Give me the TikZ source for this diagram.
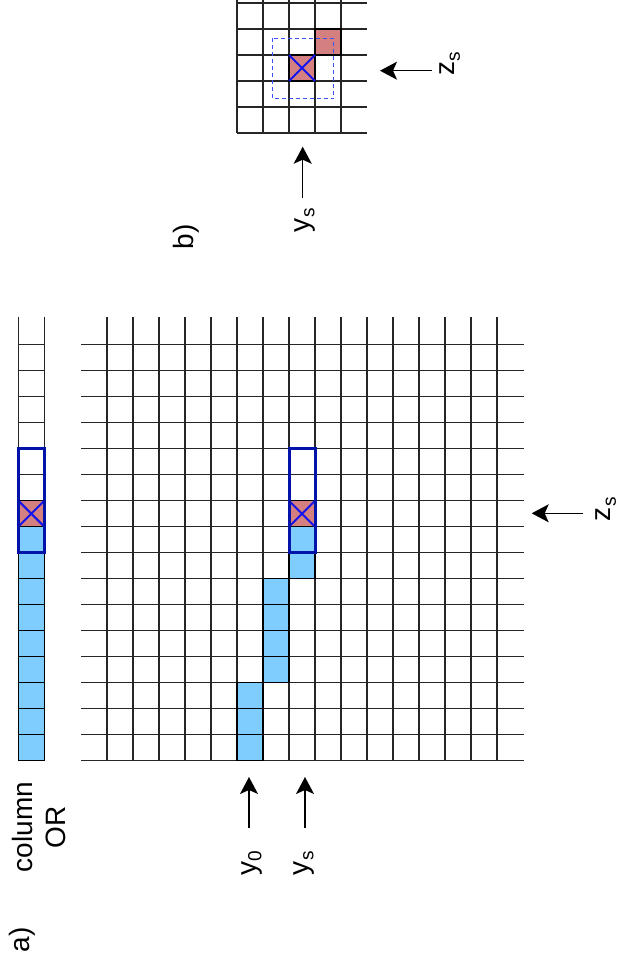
\documentclass[tikz,border=0pt]{standalone}
\usepackage{fontspec}
\setmainfont{Liberation Sans}
\usetikzlibrary{arrows.meta}
\definecolor{cellblue}{RGB}{127,204,255}
\definecolor{cellred}{RGB}{212,128,128}
\definecolor{boxblue}{RGB}{0,20,170}
\definecolor{xblue}{RGB}{20,20,235}
\definecolor{dashblue}{RGB}{60,80,255}
\newcommand{\sublbl}[2]{#1\kern0.5pt{\fontsize{19}{19}\selectfont\raisebox{-5pt}{#2}}}
\begin{document}
\begin{tikzpicture}[x=1pt,y=-1pt,
  gridline/.style={line width=1.1pt, black!85},
  bluecell/.style={fill=cellblue, draw=black, line width=1.1pt},
  redcell/.style={fill=cellred, draw=black, line width=1.1pt},
  selbox/.style={draw=boxblue, line width=3pt},
  crossline/.style={draw=xblue, line width=2pt},
  winbox/.style={draw=dashblue, line width=1pt, dash pattern=on 4pt off 3pt},
  arr/.style={-{Stealth[length=17pt,width=18pt,inset=4pt]}, line width=1.3pt},
  lbl/.style={rotate=90, inner sep=0pt, font=\fontsize{28}{33.4}\selectfont, align=center},
]
\useasboundingbox (0,0) rectangle (621,960);
% ---------- a) main grid ----------
\foreach \c in {1,...,16} \draw[gridline] ({81+26*\c},316.7) -- ({81+26*\c},760.7);
\foreach \r in {1,...,17} \draw[gridline] (81,{318.7+26*\r}) -- (524,{318.7+26*\r});
% column OR strip
\draw[gridline] (18.3,316.7) -- (18.3,760.7);
\draw[gridline] (44.3,316.7) -- (44.3,760.7);
\foreach \r in {1,...,17} \draw[gridline] (18.3,{318.7+26*\r}) -- (44.3,{318.7+26*\r});
% strip cells
\foreach \r in {8,...,16} \draw[bluecell] (18.3,{318.7+26*\r}) rectangle (44.3,{318.7+26*(\r+1)});
\draw[redcell] (18.3,500.7) rectangle (44.3,526.7);
\draw[crossline] (18.3,500.7) -- (44.3,526.7) (18.3,526.7) -- (44.3,500.7);
\draw[selbox] (18.3,448.7) rectangle (44.3,552.7);
% main cells
\foreach \r in {14,15,16} \draw[bluecell] (237,{318.7+26*\r}) rectangle (263,{318.7+26*(\r+1)});
\foreach \r in {10,...,13} \draw[bluecell] (263,{318.7+26*\r}) rectangle (289,{318.7+26*(\r+1)});
\foreach \r in {8,9} \draw[bluecell] (289,{318.7+26*\r}) rectangle (315,{318.7+26*(\r+1)});
\draw[redcell] (289,500.7) rectangle (315,526.7);
\draw[crossline] (289,500.7) -- (315,526.7) (289,526.7) -- (315,500.7);
\draw[selbox] (289,448.7) rectangle (315,552.7);
% arrows and labels a)
\coordinate (y0tip) at (249,777);
\coordinate (y0tail) at (249,828);
\coordinate (ystip) at (305,777);
\coordinate (ystail) at (305,828);
\coordinate (zstip) at (531.7,513.3);
\coordinate (zstail) at (583.3,513.3);
\draw[arr] (y0tail) -- (y0tip);
\draw[arr] (ystail) -- (ystip);
\draw[arr] (zstail) -- (zstip);
\node[lbl] (ly0) at (252,863) {\sublbl{y}{0}};
\node[lbl] (lys) at (304,863) {\sublbl{y}{s}};
\node[lbl] (lzs) at (606,509) {\sublbl{z}{s}};
\node[lbl] (colOR) at (39.2,827) {column\\OR};
\node[lbl] (la) at (22,940) {a)};
% ---------- b) small grid ----------
\foreach \c in {0,...,4} \draw[gridline] ({237+26*\c},0) -- ({237+26*\c},133);
\foreach \r in {0,...,5} \draw[gridline] (237,{3+26*\r}) -- (367,{3+26*\r});
\draw[redcell] (315,29) rectangle (341,55);
\draw[redcell] (289,55) rectangle (315,81);
\draw[crossline] (289,55) -- (315,81) (289,81) -- (315,55);
\draw[winbox] (272.3,38.3) rectangle (333.3,99);
\coordinate (bzstip) at (380,70.7);
\coordinate (bzstail) at (431.7,70.7);
\coordinate (bystip) at (302.7,146.7);
\coordinate (bystail) at (302.7,198);
\draw[arr] (bzstail) -- (bzstip);
\draw[arr] (bystail) -- (bystip);
\node[lbl] (blzs) at (450,64) {\sublbl{z}{s}};
\node[lbl] (blys) at (305,220) {\sublbl{y}{s}};
\node[lbl] (lb) at (186,237) {b)};
\end{tikzpicture}
\end{document}
